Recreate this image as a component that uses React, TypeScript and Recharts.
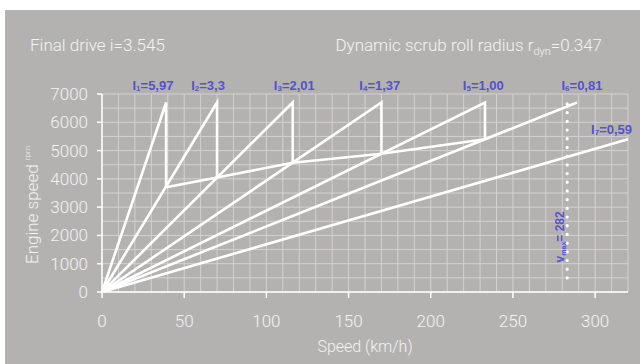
import React from 'react';
import {
  ComposedChart,
  Line,
  XAxis,
  YAxis,
  ReferenceLine,
  ReferenceDot,
} from 'recharts';

// ---- data (speed in km/h, engine speed in rpm) ----
const gearIndex = ['1', '2', '3', '4', '5', '6', '7'];
const gearRatios = ['5,97', '3,3', '2,01', '1,37', '1,00', '0,81', '0,59'];

const gear1 = [{ v: 0, rpm: 0 }, { v: 39, rpm: 6700 }, { v: 39, rpm: 3700 }];
const gear2 = [{ v: 0, rpm: 0 }, { v: 70, rpm: 6700 }, { v: 70, rpm: 4050 }];
const gear3 = [{ v: 0, rpm: 0 }, { v: 116, rpm: 6700 }, { v: 116, rpm: 4570 }];
const gear4 = [{ v: 0, rpm: 0 }, { v: 170, rpm: 6700 }, { v: 170, rpm: 4890 }];
const gear5 = [{ v: 0, rpm: 0 }, { v: 233, rpm: 6700 }, { v: 233, rpm: 5400 }];
const gear6 = [{ v: 0, rpm: 0 }, { v: 289, rpm: 6700 }];
const gear7 = [{ v: 0, rpm: 0 }, { v: 320, rpm: 5400 }];
const shiftLine = [
  { v: 39, rpm: 3700 },
  { v: 70, rpm: 4050 },
  { v: 116, rpm: 4570 },
  { v: 170, rpm: 4890 },
  { v: 233, rpm: 5400 },
];
const vmaxValue = 282;
const vmaxLine = [{ v: 283, rpm: 6650 }, { v: 283, rpm: 250 }];

const labelSpeed = [31, 64.5, 117, 169, 232, 292, 310];
const labelRpm = [7330, 7330, 7330, 7330, 7330, 7330, 5760];

const xTicks = [0, 50, 100, 150, 200, 250, 300];
const yTicks = [0, 1000, 2000, 3000, 4000, 5000, 6000, 7000];
const xGrid = Array.from({ length: 33 }, (_, i) => i * 10);
const yGrid = Array.from({ length: 15 }, (_, i) => i * 500);

const gears = [gear1, gear2, gear3, gear4, gear5, gear6, gear7];

const FONT = "Roboto, 'Liberation Sans', sans-serif";
const TXT = '#f3f3f3';
const BLUE = '#5452cc';
const BG = '#b4b2b0';
const GRID = '#d3d2d1';

const GearLabel = (idx: number) => (props: any) => {
  const { cx, cy } = props;
  return (
    <text
      x={cx}
      y={cy}
      textAnchor="middle"
      fill={BLUE}
      fontFamily="'Liberation Sans', Arial, sans-serif"
      fontWeight="bold"
      fontSize={13}
      dominantBaseline="central"
    >
      <tspan>I</tspan>
      <tspan fontSize={8} dy={3}>{gearIndex[idx]}</tspan>
      <tspan dy={-3}>={gearRatios[idx]}</tspan>
    </text>
  );
};

const VmaxLabel = (props: any) => {
  const { cx, cy } = props;
  return (
    <text
      x={cx}
      y={cy}
      transform={`rotate(-90 ${cx} ${cy})`}
      textAnchor="middle"
      fill={BLUE}
      fontFamily="'Liberation Sans', Arial, sans-serif"
      fontWeight="bold"
      fontSize={12}
      dominantBaseline="central"
    >
      <tspan>v</tspan>
      <tspan fontSize={7} dy={3}>max</tspan>
      <tspan dy={-3}>= {vmaxValue}</tspan>
    </text>
  );
};

export default function App() {
  return (
    <div style={{ position: 'absolute', left: 0, top: 0, width: 644, height: 364, background: '#ffffff' }}>
      <div style={{ position: 'absolute', left: 5, top: 10, width: 635, height: 354, background: BG }} />
      <div style={{ position: 'absolute', left: 0, top: 0 }}>
        <ComposedChart
          width={644}
          height={364}
          margin={{ top: 94, right: 16, bottom: 0, left: 0 }}
        >
          <XAxis
            type="number"
            dataKey="v"
            domain={[0, 320]}
            ticks={xTicks}
            height={72}
            stroke="#ffffff"
            strokeWidth={1.5}
            tickSize={6}
            tickMargin={17}
            tick={{ fill: TXT, fontSize: 17, fontFamily: FONT, fontWeight: 300 }}
            tickLine={{ stroke: '#ffffff' }}
            label={{ value: 'Speed (km/h)', position: 'insideBottom', offset: 12, fill: TXT, fontSize: 16, fontFamily: FONT, fontWeight: 300 }}
          />
          <YAxis
            type="number"
            domain={[0, 7000]}
            ticks={yTicks}
            width={102}
            stroke="#ffffff"
            strokeWidth={1.5}
            tickSize={5}
            tickMargin={9}
            tick={{ fill: TXT, fontSize: 17, fontFamily: FONT, fontWeight: 300 }}
            tickLine={{ stroke: '#ffffff' }}
          />
          {xGrid.map((v) => (
            <ReferenceLine key={'vx' + v} x={v} stroke={GRID} strokeWidth={1} ifOverflow="visible" />
          ))}
          {yGrid.map((r) => (
            <ReferenceLine key={'hy' + r} y={r} stroke={GRID} strokeWidth={1} ifOverflow="visible" />
          ))}
          {gears.map((g, i) => (
            <Line
              key={'g' + i}
              data={g}
              dataKey="rpm"
              stroke="#ffffff"
              strokeWidth={2.6}
              dot={false}
              isAnimationActive={false}
              strokeLinejoin="miter"
            />
          ))}
          <Line
            data={shiftLine}
            dataKey="rpm"
            stroke="#ffffff"
            strokeWidth={2.6}
            dot={false}
            isAnimationActive={false}
          />
          <Line
            data={vmaxLine}
            dataKey="rpm"
            stroke="#ffffff"
            strokeWidth={3.2}
            strokeDasharray="0.1 8.6"
            strokeLinecap="round"
            dot={false}
            isAnimationActive={false}
          />
          {labelSpeed.map((v, i) => (
            <ReferenceDot
              key={'l' + i}
              x={v}
              y={labelRpm[i]}
              r={0}
              ifOverflow="visible"
              shape={GearLabel(i)}
            />
          ))}
          <ReferenceDot x={278.5} y={1950} r={0} ifOverflow="visible" shape={VmaxLabel} />
        </ComposedChart>
      </div>
      <svg width={644} height={364} style={{ position: 'absolute', left: 0, top: 0, pointerEvents: 'none' }}>
        <text x={30} y={51} fill={TXT} fontSize={17} fontFamily={FONT} fontWeight={300}>
          Final drive i=3.545
        </text>
        <text x={602} y={51} textAnchor="end" fill={TXT} fontSize={17} fontFamily={FONT} fontWeight={300}>
          <tspan>Dynamic scrub roll radius r</tspan>
          <tspan fontSize={11} dy={4}>dyn</tspan>
          <tspan dy={-4}>=0.347</tspan>
        </text>
        <text
          x={38}
          y={205}
          transform="rotate(-90 38 205)"
          textAnchor="middle"
          fill={TXT}
          fontSize={17}
          fontFamily={FONT}
          fontWeight={300}
        >
          <tspan>Engine speed </tspan>
          <tspan fontSize={8} dy={-8}>rpm</tspan>
        </text>
      </svg>
    </div>
  );
}
